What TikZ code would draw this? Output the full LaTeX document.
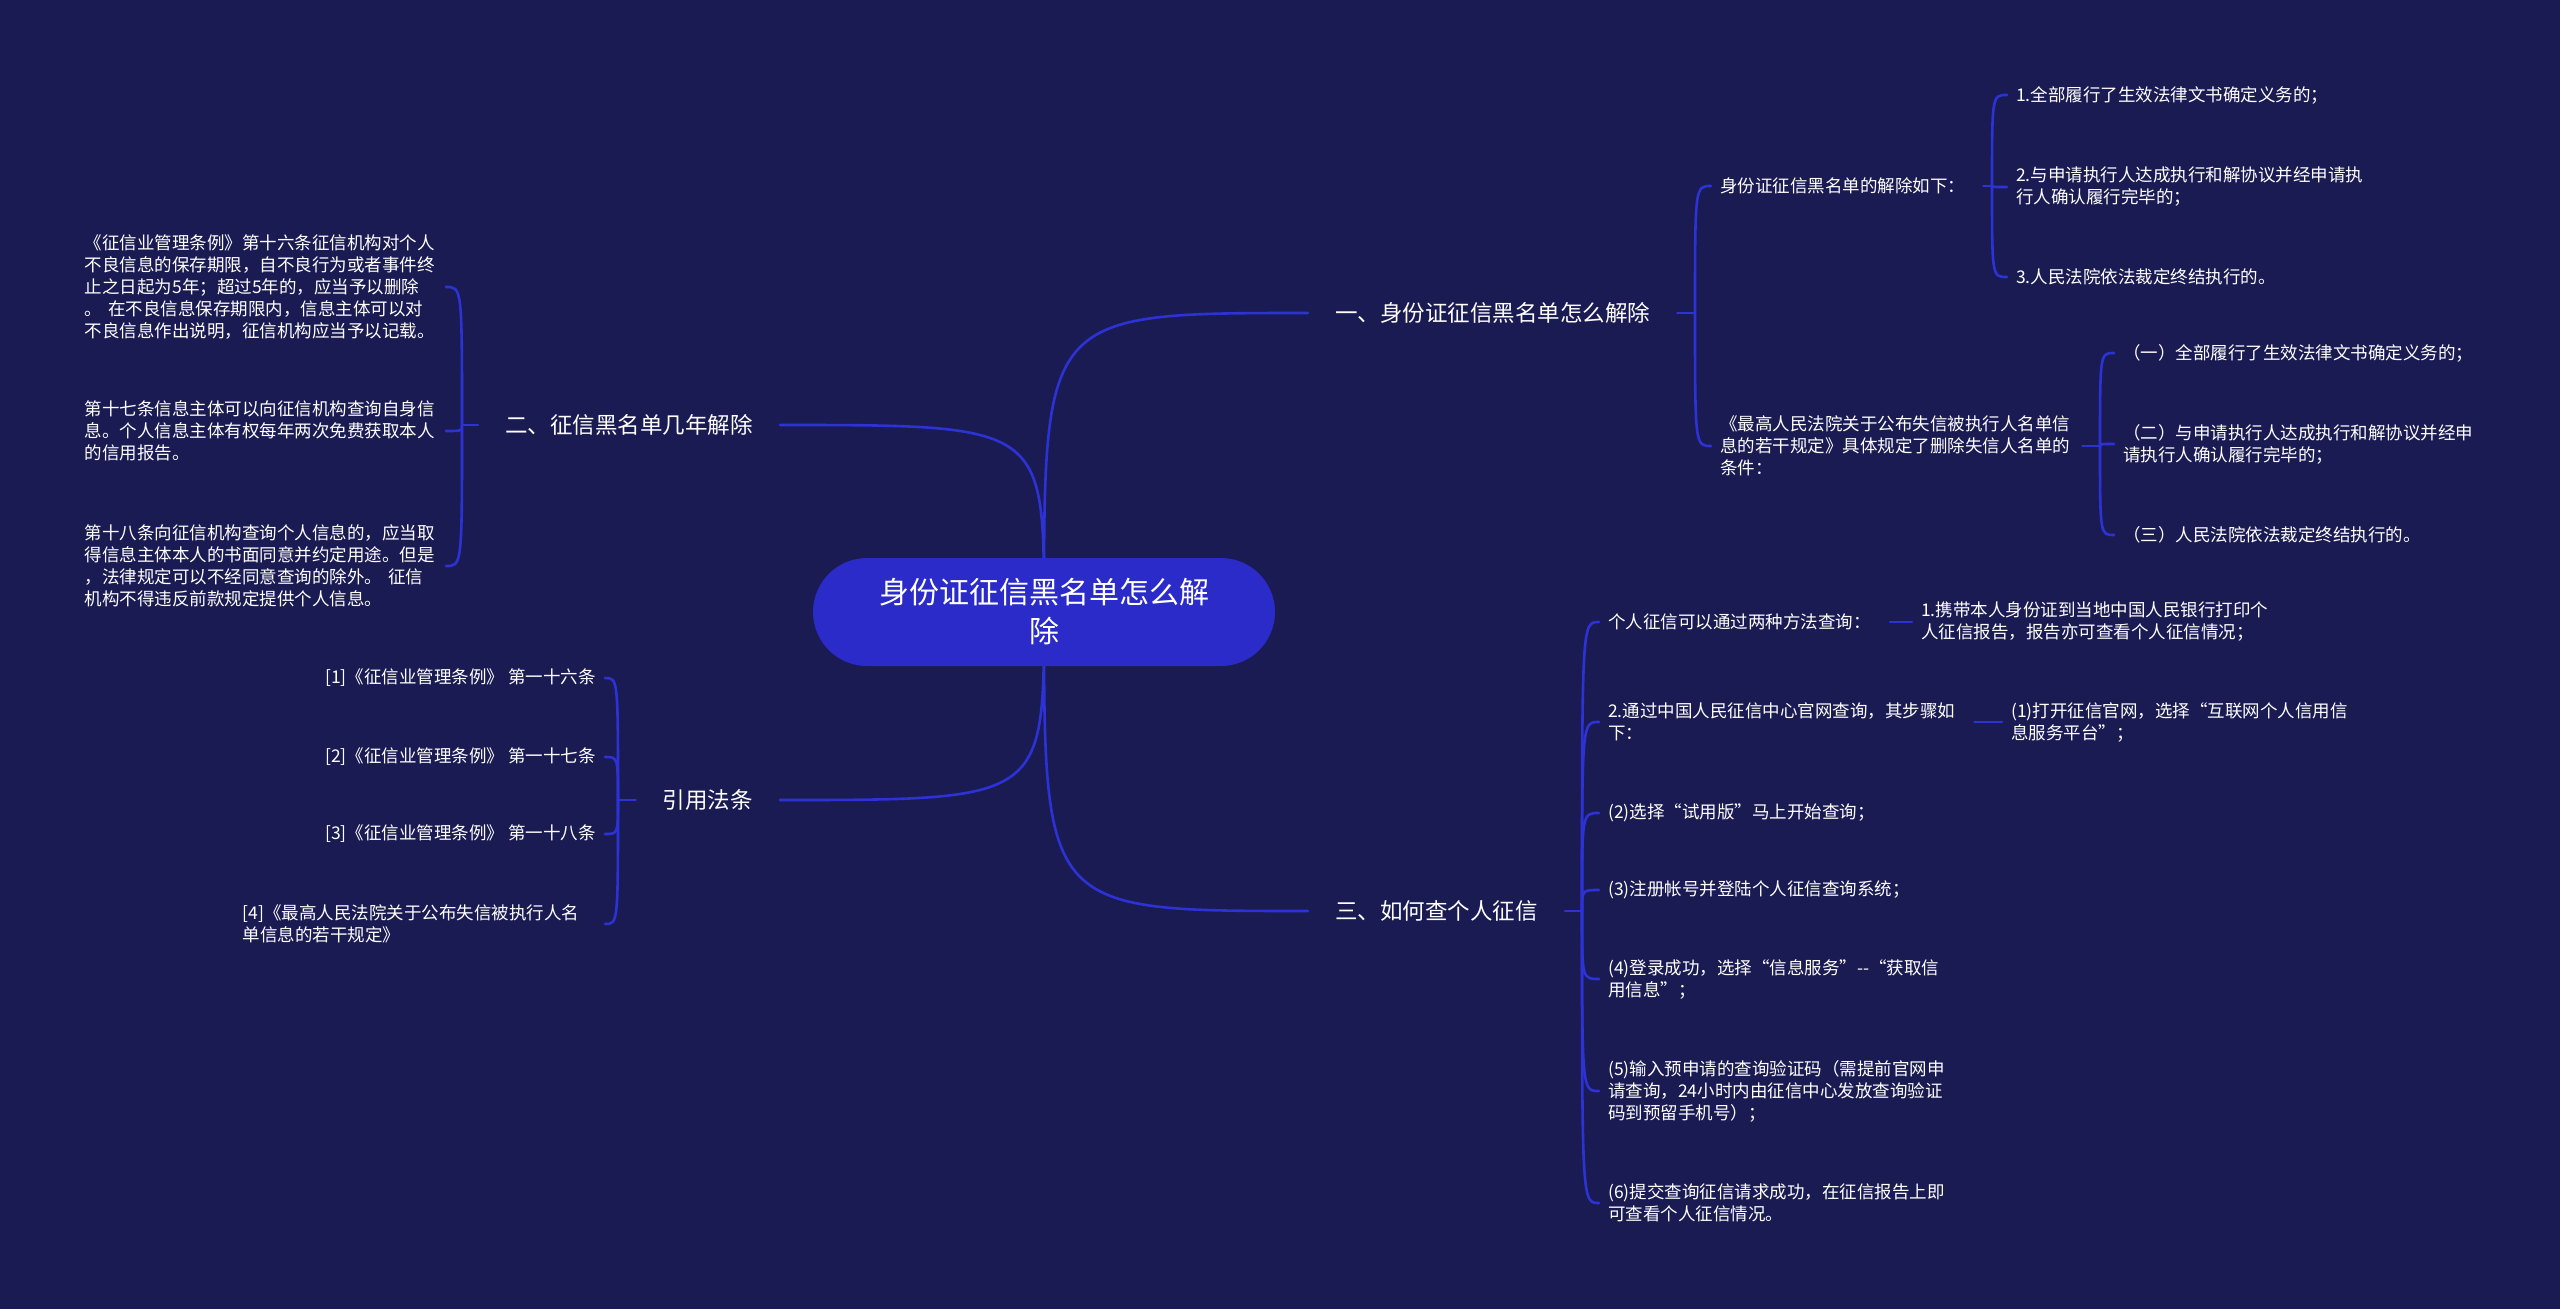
\documentclass[tikz,border=0pt]{standalone}
\usepackage{fontspec}
\newfontfamily\cjk{Noto Sans CJK SC}
\usetikzlibrary{calc}
\definecolor{bgc}{RGB}{27,27,83}
\definecolor{linec}{RGB}{44,50,212}
\definecolor{rootc}{RGB}{42,43,200}
\pgfdeclarelayer{edges}
\pgfsetlayers{edges,main}
\begin{document}
\begin{tikzpicture}[x=1pt,y=1pt,
  base/.style={text=white, inner ysep=2pt},
  leaf/.style={base, font={\cjk\fontsize{17.5}{22}\selectfont}, align=left, inner xsep=9pt},
  branch/.style={base, font={\cjk\fontsize{22.5}{27}\selectfont}, inner xsep=27pt},
  rootn/.style={fill=rootc, text=white, rounded corners=54pt, minimum width=462pt,
    minimum height=108pt, align=center, font={\cjk\fontsize{30}{39}\selectfont}},
  conn/.style={draw=linec, line width=2.6pt, line cap=round}]
\useasboundingbox (0,0) rectangle (2560,-1309);

% root
\node[rootn] (root) at (1044,-612) {身份证征信黑名单怎么解\\除};

% branches
\node[branch, anchor=west] (b1) at (1308,-313) {一、身份证征信黑名单怎么解除};
\node[branch, anchor=east] (b2) at (780,-425) {二、征信黑名单几年解除};
\node[branch, anchor=east] (b3) at (780,-800) {引用法条};
\node[branch, anchor=west] (b4) at (1308,-911) {三、如何查个人征信};

% branch 1
\node[leaf, anchor=west] (c11) at (1711,-186) {身份证征信黑名单的解除如下：};
\node[leaf, anchor=west] (c12) at (1711,-446) {《最高人民法院关于公布失信被执行人名单信\\息的若干规定》具体规定了删除失信人名单的\\条件：};
\node[leaf, anchor=west] (g111) at (2007,-95) {1.全部履行了生效法律文书确定义务的；};
\node[leaf, anchor=west] (g112) at (2007,-187) {2.与申请执行人达成执行和解协议并经申请执\\行人确认履行完毕的；};
\node[leaf, anchor=west] (g113) at (2007,-277) {3.人民法院依法裁定终结执行的。};
\node[leaf, anchor=west] (g121) at (2114,-353) {（一）全部履行了生效法律文书确定义务的；};
\node[leaf, anchor=west] (g122) at (2114,-444) {（二）与申请执行人达成执行和解协议并经申\\请执行人确认履行完毕的；};
\node[leaf, anchor=west] (g123) at (2114,-535) {（三）人民法院依法裁定终结执行的。};

% branch 2
\node[leaf, anchor=east, text width=352pt] (l1) at (446,-287) {《征信业管理条例》第十六条征信机构对个人\\不良信息的保存期限，自不良行为或者事件终\\止之日起为5年；超过5年的，应当予以删除\\。 在不良信息保存期限内，信息主体可以对\\不良信息作出说明，征信机构应当予以记载。};
\node[leaf, anchor=east, text width=352pt] (l2) at (446,-431) {第十七条信息主体可以向征信机构查询自身信\\息。个人信息主体有权每年两次免费获取本人\\的信用报告。};
\node[leaf, anchor=east, text width=352pt] (l3) at (446,-566) {第十八条向征信机构查询个人信息的，应当取\\得信息主体本人的书面同意并约定用途。但是\\，法律规定可以不经同意查询的除外。 征信\\机构不得违反前款规定提供个人信息。};

% branch 3
\node[leaf, anchor=east] (r1) at (605,-678) {[1]《征信业管理条例》 第一十六条};
\node[leaf, anchor=east] (r2) at (605,-757) {[2]《征信业管理条例》 第一十七条};
\node[leaf, anchor=east] (r3) at (605,-834) {[3]《征信业管理条例》 第一十八条};
\node[leaf, anchor=east, text width=353pt] (r4) at (605,-924) {[4]《最高人民法院关于公布失信被执行人名\\单信息的若干规定》};

% branch 4
\node[leaf, anchor=west] (d1) at (1599,-622) {个人征信可以通过两种方法查询：};
\node[leaf, anchor=west] (d2) at (1599,-722) {2.通过中国人民征信中心官网查询，其步骤如\\下：};
\node[leaf, anchor=west] (d3) at (1599,-813) {(2)选择“试用版”马上开始查询；};
\node[leaf, anchor=west] (d4) at (1599,-890) {(3)注册帐号并登陆个人征信查询系统；};
\node[leaf, anchor=west] (d5) at (1599,-979) {(4)登录成功，选择“信息服务”--“获取信\\用信息”；};
\node[leaf, anchor=west] (d6) at (1599,-1091) {(5)输入预申请的查询验证码（需提前官网申\\请查询，24小时内由征信中心发放查询验证\\码到预留手机号）；};
\node[leaf, anchor=west] (d7) at (1599,-1203) {(6)提交查询征信请求成功，在征信报告上即\\可查看个人征信情况。};
\node[leaf, anchor=west] (e1) at (1912,-622) {1.携带本人身份证到当地中国人民银行打印个\\人征信报告，报告亦可查看个人征信情况；};
\node[leaf, anchor=west] (e2) at (2002,-722) {(1)打开征信官网，选择“互联网个人信用信\\息服务平台”；};

% junctions
\coordinate (J1) at (1695,-313);
\coordinate (J2) at (462,-425);
\coordinate (J3) at (618,-800);
\coordinate (J4) at (1582,-911);
\coordinate (J11) at (1992,-186);
\coordinate (J12) at (2100,-446);
\coordinate (S11) at ($(c11.east)+(9,0)$);
\coordinate (S12) at ($(c12.east)+(3,0)$);
\coordinate (SD1) at ($(d1.east)+(10,0)$);
\coordinate (SD2) at ($(d2.east)+(10,0)$);

\begin{pgfonlayer}{edges}
\fill[bgc] (0,0) rectangle (2560,-1309);
% root connectors
\draw[conn] (root.center) .. controls (root.center |- b1.west) .. (b1.west);
\draw[conn] (root.center) .. controls (root.center |- b2.east) .. (b2.east);
\draw[conn] (root.center) .. controls (root.center |- b3.east) .. (b3.east);
\draw[conn] (root.center) .. controls (root.center |- b4.west) .. (b4.west);
% branch 1
\draw[conn] (b1.east) -- (J1);
\draw[conn] (J1) .. controls (J1 |- c11.west) .. (c11.west);
\draw[conn] (J1) .. controls (J1 |- c12.west) .. (c12.west);
\draw[conn] (S11) -- (J11);
\draw[conn] (J11) .. controls (J11 |- g111.west) .. (g111.west);
\draw[conn] (J11) .. controls (J11 |- g112.west) .. (g112.west);
\draw[conn] (J11) .. controls (J11 |- g113.west) .. (g113.west);
\draw[conn] (S12) -- (J12);
\draw[conn] (J12) .. controls (J12 |- g121.west) .. (g121.west);
\draw[conn] (J12) .. controls (J12 |- g122.west) .. (g122.west);
\draw[conn] (J12) .. controls (J12 |- g123.west) .. (g123.west);
% branch 2
\draw[conn] (b2.west) -- (J2);
\draw[conn] (J2) .. controls (J2 |- l1.east) .. (l1.east);
\draw[conn] (J2) .. controls (J2 |- l2.east) .. (l2.east);
\draw[conn] (J2) .. controls (J2 |- l3.east) .. (l3.east);
% branch 3
\draw[conn] (b3.west) -- (J3);
\draw[conn] (J3) .. controls (J3 |- r1.east) .. (r1.east);
\draw[conn] (J3) .. controls (J3 |- r2.east) .. (r2.east);
\draw[conn] (J3) .. controls (J3 |- r3.east) .. (r3.east);
\draw[conn] (J3) .. controls (J3 |- r4.east) .. (r4.east);
% branch 4
\draw[conn] (b4.east) -- (J4);
\foreach \n in {d1,d2,d3,d4,d5,d6,d7}
  \draw[conn] (J4) .. controls (J4 |- \n.west) .. (\n.west);
\draw[conn] (SD1) -- (e1.west);
\draw[conn] (SD2) -- (e2.west);
\end{pgfonlayer}
\end{tikzpicture}
\end{document}
